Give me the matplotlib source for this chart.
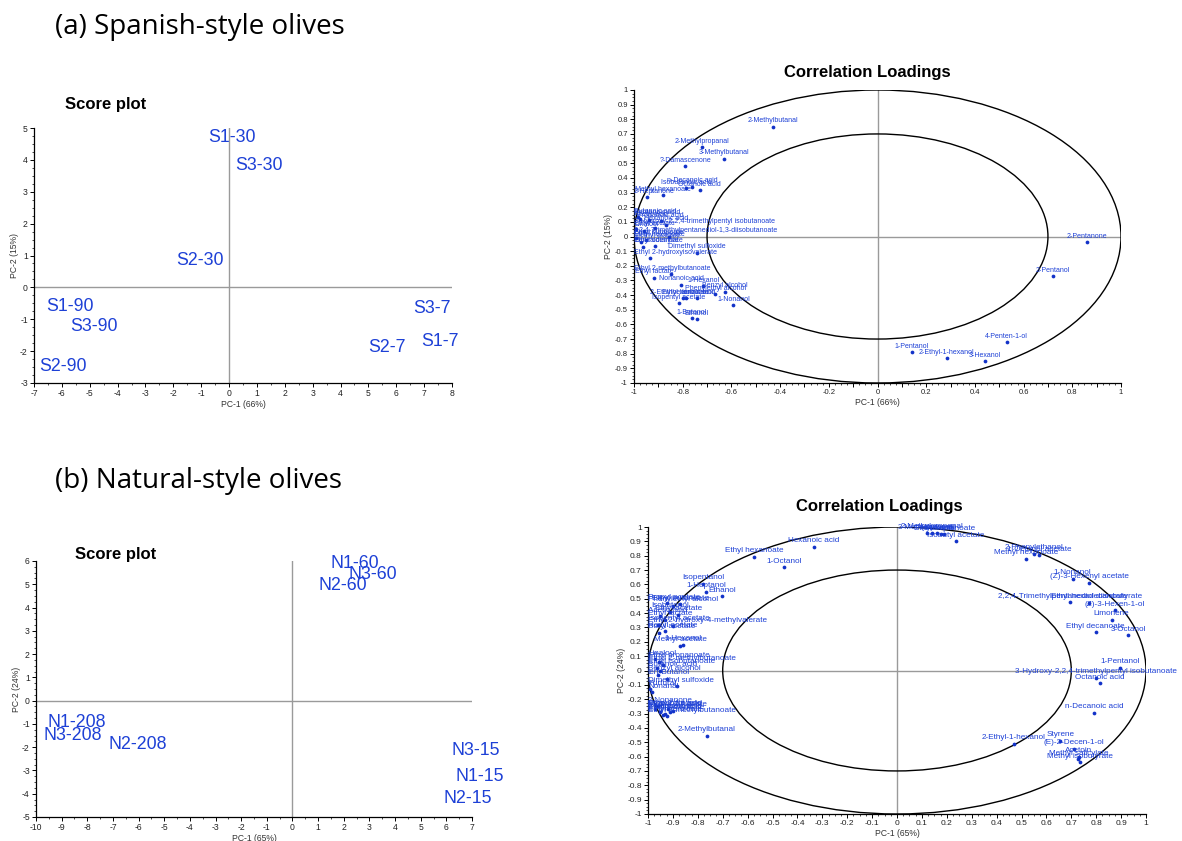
import matplotlib
matplotlib.use('Agg')
import matplotlib.pyplot as plt
from matplotlib.patches import Ellipse
from matplotlib.ticker import MultipleLocator, FuncFormatter
from matplotlib.transforms import offset_copy

plt.rcParams['font.family'] = ['Liberation Sans', 'DejaVu Sans']

# ---- score plot (a) Spanish-style ----
samples_a = ['S1-30', 'S3-30', 'S2-30', 'S1-90', 'S3-90', 'S2-90', 'S3-7', 'S2-7', 'S1-7']
score_pc1_a = [-0.75, 0.21, -1.89, -6.58, -5.69, -6.82, 6.62, 5.0, 6.88]
score_pc2_a = [4.70, 3.83, 0.83, -0.59, -1.22, -2.48, -0.67, -1.90, -1.69]

# ---- score plot (b) Natural-style ----
samples_b = ['N1-60', 'N3-60', 'N2-60', 'N1-208', 'N3-208', 'N2-208', 'N3-15', 'N1-15', 'N2-15']
score_pc1_b = [1.48, 2.2, 1.03, -9.57, -9.70, -7.19, 6.2, 6.37, 5.87]
score_pc2_b = [5.89, 5.41, 4.96, -0.94, -1.51, -1.90, -2.15, -3.26, -4.22]

# ---- correlation loadings (a) ----
names_a = [
    '2-Methylbutanal', '2-Methylpropanal', '3-Methylbutanal', '?-Damascenone',
    'n-Decanoic acid', 'Isobutanoic acid', 'Octanoic acid', '2-Heptanone', 'Methyl hexanoate',
    'Butanoic acid', 'Pentanoic acid', 'Acetic acid', 'Propanoic acid', 'Hexanoic acid',
    '3-Hydroxy-2,2,4-trimethylpentyl isobutanoate', 'Ethyl acetate', 'Linalool',
    '2,2,4-Trimethylpentanediol-1,3-diisobutanoate', 'Ethyl butanoate', 'Ethyl hexanoate',
    'Methyl acetate', 'Ethyl octanoate', 'Benzaldehyde', 'Dimethyl sulfoxide',
    'Ethyl 2-hydroxyisovalerate', 'Ethyl 2-methylbutanoate', 'Ethyl lactate',
    'Nonanoic acid', '1-Hexanol', 'Phenylethyl alcohol', 'Benzyl alcohol', '1-Nonanol',
    '2-Ethylhexanoic acid', 'Ethyl benzoate', 'Isobutanol', 'Isopentyl acetate',
    '1-Butanol', 'Ethanol',
    '2-Pentanone', '2-Pentanol', '4-Penten-1-ol', '3-Hexanol', '2-Ethyl-1-hexanol', '1-Pentanol',
]
load_pc1_a = [
    -0.43, -0.72, -0.63, -0.79,
    -0.76, -0.785, -0.73, -0.945, -0.88,
    -0.985, -0.975, -0.94, -0.89, -0.87,
    -0.915, -0.99, -0.96,
    -0.855, -0.99, -0.95,
    -0.97, -0.965, -0.915, -0.74,
    -0.934, -0.848, -0.917,
    -0.807, -0.715, -0.667, -0.626, -0.592,
    -0.80, -0.787, -0.74, -0.815,
    -0.762, -0.742,
    0.86, 0.72, 0.53, 0.44, 0.284, 0.14,
]
load_pc2_a = [
    0.75, 0.61, 0.53, 0.48,
    0.34, 0.33, 0.315, 0.27, 0.28,
    0.13, 0.12, 0.11, 0.105, 0.08,
    0.06, 0.05, 0.04,
    0.0, -0.01, -0.025,
    -0.035, -0.07, -0.065, -0.11,
    -0.15, -0.256, -0.28,
    -0.33, -0.34, -0.395, -0.377, -0.468,
    -0.42, -0.42, -0.42, -0.456,
    -0.556, -0.565,
    -0.04, -0.27, -0.72, -0.85, -0.83, -0.79,
]

# ---- correlation loadings (b) ----
names_b = [
    'Hexanoic acid', 'Ethyl hexanoate', '1-Octanol', 'Isopentanol', '1-Heptanol', 'Ethanol',
    'Propyl acetate', 'Ethyl butanoate', 'Phenylethyl alcohol', 'Isobutanol', 'Ethyl acetate',
    'Acetic acid', 'Ethyl lactate', 'Isopentyl acetate', 'Ethyl 2-hydroxy-4-methylvalerate',
    'Hexyl acetate', 'Butyl acetate', '1-Hexanol', 'Methyl acetate',
    'Linalool', 'Ethyl propanoate', 'Ethyl 2-methylbutanoate', 'Ethyl isobutanoate',
    'Butanoic acid', 'Benzyl alcohol', 'tert-Butanol', 'Dimethyl sulfoxide', 'Furfural', 'Nonanal',
    '2-Nonanone', 'Ethyl 2-furoate', 'Methyl 2-furoate', '2-Heptanone', 'Ethyl octanoate',
    'Ethyl benzoate', 'Pentanoic acid', 'Propanoic acid', 'Ethyl 3-methylbutanoate',
    '2-Methylbutanal',
    '3-Methylbutanal', '2-Methylpropanal', 'Heptanal', 'Hexanal', 'Ethyl heptanoate',
    'Isobutyl acetate', 'Methyl hexanoate', '2-Phenylethanol', '1-Octanol acetate',
    '1-Nonanol', '(Z)-3-Hexenyl acetate', '2,2,4-Trimethylpentanediol diisobutyrate',
    'Ethyl hexadecanoate', '(Z)-3-Hexen-1-ol', 'Limonene', 'Ethyl decanoate', '3-Octanol',
    '1-Pentanol', '3-Hydroxy-2,2,4-trimethylpentyl isobutanoate', 'Octanoic acid',
    'n-Decanoic acid', '2-Ethyl-1-hexanol', 'Styrene', '(E)-2-Decen-1-ol', 'Acetoin',
    'Methyl salicylate', 'Methyl isobutyrate',
]
load_pc1_b = [
    -0.335, -0.575, -0.455, -0.778, -0.767, -0.704,
    -0.925, -0.87, -0.898, -0.91, -0.878,
    -0.95, -0.93, -0.96, -0.90,
    -0.93, -0.955, -0.858, -0.87,
    -0.97, -0.955, -0.94, -0.965,
    -0.95, -0.96, -0.925, -0.885, -0.99, -0.985,
    -0.96, -0.92, -0.90, -0.95, -0.93,
    -0.94, -0.91, -0.97, -0.925,
    -0.764,
    0.12, 0.14, 0.16, 0.175, 0.19,
    0.236, 0.517, 0.551, 0.571,
    0.705, 0.771, 0.695,
    0.771, 0.875, 0.862, 0.798, 0.929,
    0.895, 0.80, 0.816,
    0.792, 0.469, 0.655, 0.71, 0.73,
    0.728, 0.735,
]
load_pc2_b = [
    0.864, 0.794, 0.72, 0.606, 0.55, 0.518,
    0.47, 0.46, 0.45, 0.41, 0.39,
    0.38, 0.355, 0.32, 0.31,
    0.274, 0.263, 0.179, 0.174,
    0.08, 0.06, 0.04, 0.02,
    0.0, -0.03, -0.058, -0.11, -0.13, -0.15,
    -0.25, -0.27, -0.28, -0.29, -0.30,
    -0.31, -0.29, -0.27, -0.32,
    -0.455,
    0.955, 0.96, 0.955, 0.95, 0.948,
    0.90, 0.778, 0.813, 0.803,
    0.639, 0.611, 0.476,
    0.472, 0.42, 0.355, 0.267, 0.244,
    0.018, -0.05, -0.09,
    -0.293, -0.51, -0.49, -0.545, -0.60,
    -0.62, -0.64,
]

BLUE_TXT = '#1d40d6'
DOT = '#1232c8'
GREY = '#9a9a9a'
AXTXT = '#333333'

W, H = 1182, 841
fig = plt.figure(figsize=(W / 100, H / 100), dpi=100)


def px_rect(x0, y_top, x1, y_bot):
    return [x0 / W, 1 - y_bot / H, (x1 - x0) / W, (y_bot - y_top) / H]


def num_fmt(v, pos):
    if abs(v) < 1e-9:
        return '0'
    return ('%.1f' % v).rstrip('0').rstrip('.')


def base_axes(rect, xlim, ylim, tick_size):
    ax = fig.add_axes(rect)
    ax.set_xlim(xlim)
    ax.set_ylim(ylim)
    ax.patch.set_alpha(0)
    for s in ['top', 'right']:
        ax.spines[s].set_visible(False)
    for s in ['left', 'bottom']:
        ax.spines[s].set_linewidth(0.9)
    ax.axhline(0, color=GREY, lw=1.0, zorder=0)
    ax.axvline(0, color=GREY, lw=1.0, zorder=0)
    ax.tick_params(which='major', length=3, width=0.7, labelsize=tick_size,
                   pad=1.5, colors='black', labelcolor='#222222')
    ax.tick_params(which='minor', length=1.6, width=0.5)
    return ax


def score_plot(rect, xlim, ylim, names, xs, ys, xlab, ylab):
    ax = base_axes(rect, xlim, ylim, 6.2)
    ax.xaxis.set_major_locator(MultipleLocator(1))
    ax.yaxis.set_major_locator(MultipleLocator(1))
    ax.xaxis.set_minor_locator(MultipleLocator(0.5))
    ax.yaxis.set_minor_locator(MultipleLocator(0.25))
    ax.xaxis.set_major_formatter(FuncFormatter(num_fmt))
    ax.yaxis.set_major_formatter(FuncFormatter(num_fmt))
    for n, x, y in zip(names, xs, ys):
        ax.text(x, y, n, ha='left', va='center', fontsize=12.8, color=BLUE_TXT, clip_on=False)
    ax.set_xlabel(xlab, fontsize=6.2, color=AXTXT, labelpad=1)
    ax.set_ylabel(ylab, fontsize=6.2, color=AXTXT, labelpad=1)
    return ax


def loading_plot(rect, names, xs, ys, lab_size, tick_size, even_x, xlab, ylab):
    ax = base_axes(rect, (-1, 1), (-1, 1), tick_size)
    ax.xaxis.set_major_locator(MultipleLocator(0.1))
    ax.yaxis.set_major_locator(MultipleLocator(0.1))
    ax.xaxis.set_minor_locator(MultipleLocator(0.025))
    ax.yaxis.set_minor_locator(MultipleLocator(0.025))
    if even_x:
        ax.xaxis.set_major_formatter(FuncFormatter(
            lambda v, p: num_fmt(v, p) if round(v * 10) % 2 == 0 else ''))
    else:
        ax.xaxis.set_major_formatter(FuncFormatter(num_fmt))
    ax.yaxis.set_major_formatter(FuncFormatter(num_fmt))
    for r in (1.0, 0.7):
        ax.add_patch(Ellipse((0, 0), 2 * r, 2 * r, fill=False, ec='black', lw=1.0, zorder=1))
    ax.plot(xs, ys, 'o', ms=2.7, color=DOT, mec='none', clip_on=False, zorder=3)
    trans = offset_copy(ax.transData, fig=fig, y=3.2, units='points')
    texts = []
    for n, x, y in zip(names, xs, ys):
        t = ax.text(x, y, n, transform=trans, ha='center', va='baseline',
                    fontsize=lab_size, color=BLUE_TXT, clip_on=False, zorder=4)
        texts.append(t)
    ax.set_xlabel(xlab, fontsize=6.2, color=AXTXT, labelpad=1)
    ax.set_ylabel(ylab, fontsize=6.2, color=AXTXT, labelpad=1)
    return ax, texts


ax1 = score_plot(px_rect(34, 128, 452, 383), (-7, 8), (-3, 5),
                 samples_a, score_pc1_a, score_pc2_a, 'PC-1 (66%)', 'PC-2 (15%)')
ax2, txt2 = loading_plot(px_rect(634, 90, 1121, 383), names_a, load_pc1_a, load_pc2_a,
                         5.0, 5.5, True, 'PC-1 (66%)', 'PC-2 (15%)')
ax3 = score_plot(px_rect(36, 561, 472, 817), (-10, 7), (-5, 6),
                 samples_b, score_pc1_b, score_pc2_b, 'PC-1 (65%)', 'PC-2 (24%)')
ax4, txt4 = loading_plot(px_rect(648, 527, 1146, 814), names_b, load_pc1_b, load_pc2_b,
                         5.9, 6.0, False, 'PC-1 (65%)', 'PC-2 (24%)')

# headings
fig.text(55 / W, 1 - 27 / H, '(a) Spanish-style olives', fontsize=20, family='Open Sans',
         va='center', ha='left', color='black')
fig.text(55 / W, 1 - 481 / H, '(b) Natural-style olives', fontsize=20, family='Open Sans',
         va='center', ha='left', color='black')
fig.text(65 / W, 1 - 105 / H, 'Score plot', fontsize=12, weight='bold', va='center', ha='left')
fig.text(75 / W, 1 - 554 / H, 'Score plot', fontsize=12, weight='bold', va='center', ha='left')
fig.text(867 / W, 1 - 73 / H, 'Correlation Loadings', fontsize=12, weight='bold',
         va='center', ha='center')
fig.text(879 / W, 1 - 506 / H, 'Correlation Loadings', fontsize=12, weight='bold',
         va='center', ha='center')

# keep loading labels inside the left edge of the plot, like the original software does
fig.canvas.draw()
rend = fig.canvas.get_renderer()
for ax, texts in ((ax2, txt2), (ax4, txt4)):
    left = ax.transData.transform((-1, 0))[0]
    for t in texts:
        bb = t.get_window_extent(rend)
        if bb.x0 < left:
            t.set_ha('left')
            t.set_x(-1.0)

fig.savefig('out.png', dpi=100)
